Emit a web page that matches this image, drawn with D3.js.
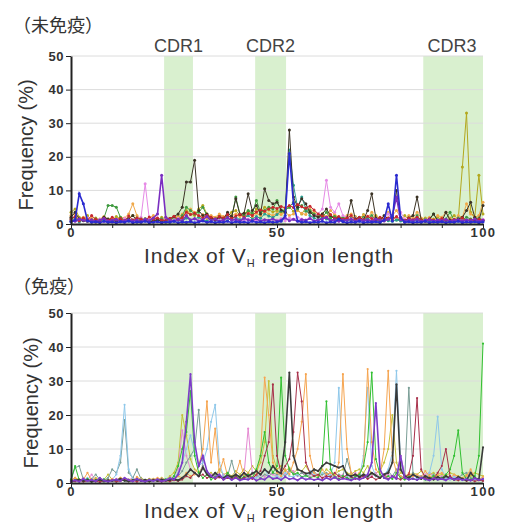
<!DOCTYPE html>
<html>
<head>
<meta charset="utf-8">
<script src="https://cdn.jsdelivr.net/npm/d3@7"></script>
<style>
  body { margin: 0; background: #fff; }
  text { font-family: Arial, "Liberation Sans", sans-serif; }
  .title { font-family: "Noto Sans CJK JP", sans-serif; font-size: 18px; fill: #333; }
  .axis text { font-size: 13px; font-weight: bold; fill: #333; letter-spacing: 0.5px; }
  .axis path, .axis line { stroke: #222; }
  .axisLabel { font-size: 21px; fill: #333; }
  .cdrLabel { font-size: 18px; fill: #444; }
</style>
</head>
<body>
<div id="chart"></div>
<script>
// tick values and CDR band positions (index of VH region length)
const indexTicks = [0, 10, 20, 30, 40, 50, 60, 70, 80, 90, 100];
const indexLabels = [0, 50, 100];
const freqTicks = [0, 10, 20, 30, 40, 50];
const cdrNames = ["CDR1", "CDR2", "CDR3"];
const cdrStart = [22.6, 44.7, 85.5];
const cdrEnd = [29.6, 52.2, 100];

// ---- 未免疫 (naive) : frequency (%) at index 0..100 ----
const naiveColors = ["#b3a81e", "#f0a848", "#3f9a3f", "#e68ae6", "#2a9d8f", "#3b3325", "#c8282e", "#7a2fc0", "#2b2bd0"];
const naiveOlive = [3.5,4.5,2.0,1.5,2.5,1.0,1.8,1.2,2.0,1.5, 1.2,2.2,1.5,1.0,1.8,2.5,1.4,1.0,1.6,1.2,
  1.8,1.0,2.0,1.4,1.2,1.6,2.2,1.5,4.0,3.0, 2.5,4.5,5.5,3.0,2.0,1.5,2.5,1.8,2.2,3.5,
  4.0,2.5,3.2,3.8,2.8,4.5,3.5,5.0,4.2,3.6, 4.0,3.5,4.5,5.0,3.8,4.2,3.0,4.8,3.5,2.8,
  2.5,3.0,2.0,1.5,2.5,1.8,1.2,2.0,1.5,2.2, 1.5,2.8,1.2,1.8,2.5,1.5,1.0,1.8,2.2,1.6,
  1.2,2.5,1.5,1.0,2.0,1.4,1.8,1.0,1.5,2.0, 1.2,1.0,1.8,2.5,1.5,17.0,33.0,3.5,2.0,14.5,3.0];
const naiveOrange = [2.5,3.0,1.5,2.0,1.2,1.8,1.0,1.5,2.2,1.0, 1.5,1.2,2.0,1.8,3.0,6.0,2.5,1.5,1.2,1.8,
  2.5,1.5,1.0,2.0,1.5,1.2,2.0,3.0,2.5,4.5, 3.5,2.0,2.8,1.5,2.5,2.0,3.0,2.2,1.8,2.5,
  3.0,2.2,2.8,3.5,2.0,3.2,2.5,3.8,3.0,2.5, 3.2,2.8,3.5,2.5,3.0,4.0,3.2,2.8,4.5,3.5,
  2.5,3.0,2.2,4.0,2.8,2.0,1.5,2.5,3.0,2.0, 1.5,2.5,1.8,3.5,2.0,1.5,2.2,3.5,2.5,4.0,
  2.0,1.5,2.5,2.0,3.5,1.8,1.5,2.0,1.2,2.5, 2.0,3.5,1.5,1.2,2.5,2.0,6.0,3.0,2.0,2.5,6.5];
const naiveGreen = [1.5,2.0,1.0,1.5,1.2,0.8,1.5,1.0,1.8,5.5, 5.5,5.0,2.0,1.2,1.5,1.0,1.8,1.2,1.5,1.0,
  1.3,0.9,1.5,1.0,1.2,1.8,1.4,2.5,5.0,4.0, 3.0,3.5,5.0,2.5,1.8,1.5,2.2,1.6,2.5,2.0,
  8.0,3.0,2.5,4.0,3.2,7.0,3.5,4.0,5.0,4.5, 7.0,3.8,4.2,5.0,6.5,4.5,5.5,3.8,4.0,3.0,
  2.5,2.0,3.5,1.8,2.2,1.5,2.0,1.2,1.8,1.5, 1.2,2.0,1.5,2.5,1.0,1.8,1.2,1.5,2.0,1.2,
  1.5,1.0,1.8,1.2,2.5,1.0,1.4,1.2,3.0,1.0, 1.2,1.5,3.5,1.0,1.8,1.2,2.0,1.5,1.0,1.8,1.2];
const naivePink = [1.0,1.5,0.8,1.2,1.8,0.9,1.1,1.4,0.7,1.2, 0.9,1.3,1.0,1.6,0.8,1.2,1.5,2.0,12.0,1.5,
  1.2,1.8,1.0,1.4,0.9,1.3,1.6,1.0,1.8,1.2, 1.5,1.0,1.3,0.8,1.4,1.1,1.6,0.9,1.2,1.5,
  1.0,1.3,0.8,1.5,1.2,1.0,1.6,1.2,1.0,1.4, 1.2,1.6,1.0,1.8,1.4,2.0,1.5,1.2,1.8,2.5,
  3.0,4.5,13.0,5.0,3.5,6.0,2.5,2.0,1.5,1.8, 1.2,1.5,1.0,1.8,1.3,1.0,1.5,3.0,1.2,2.0,
  3.5,1.5,1.0,1.3,1.8,1.0,1.2,1.5,0.9,1.1, 1.4,1.0,1.2,0.8,1.5,1.0,1.3,0.9,1.2,1.0,1.4];
const naiveTeal = [0.8,1.5,0.6,1.2,0.9,0.7,1.4,0.8,1.1,0.6, 0.9,1.3,0.7,1.0,0.8,1.2,0.6,1.5,0.9,0.7,
  1.1,0.8,1.4,0.6,1.0,0.9,1.3,0.7,1.8,1.2, 1.5,2.0,1.2,0.9,1.6,1.1,0.8,1.4,1.0,1.7,
  2.0,1.3,1.8,2.5,1.5,2.2,1.7,3.0,2.4,1.9, 2.8,4.0,3.5,22.0,11.5,5.0,8.0,4.5,2.5,1.8,
  1.2,2.0,1.5,0.9,1.6,1.1,0.8,1.3,1.0,1.4, 0.9,1.2,1.6,0.8,1.1,0.7,1.3,1.0,0.8,1.2,
  0.9,0.7,1.1,0.8,1.3,0.6,1.0,0.9,0.7,1.2, 0.8,1.0,0.6,1.1,0.9,0.7,1.3,0.8,1.0,0.6,0.9];
const naiveDark = [2.0,3.5,1.5,1.0,0.8,1.2,0.6,1.0,2.0,1.5, 1.0,0.8,1.2,0.7,1.5,2.5,1.0,0.8,1.1,0.6,
  0.9,1.3,0.7,1.0,1.6,2.2,3.0,5.0,12.5,12.5, 19.0,4.0,2.5,3.0,1.8,1.2,2.0,1.5,3.5,2.2,
  7.5,2.8,3.2,9.0,4.0,5.5,3.0,10.5,7.0,6.0, 6.5,4.2,3.5,28.0,8.0,5.0,7.5,6.0,3.5,2.5,
  2.0,3.0,4.5,2.5,1.5,2.0,1.2,1.8,7.0,1.5, 2.0,1.2,4.0,9.0,1.8,1.0,2.5,1.5,2.0,10.0,
  1.5,1.0,1.8,2.5,8.0,1.2,0.8,1.5,3.0,1.0, 0.8,3.5,1.2,0.9,1.5,2.0,4.0,6.5,2.0,1.0,5.5];
const naiveRed = [1.5,2.2,1.0,1.8,1.2,2.5,1.4,0.9,1.7,1.1, 2.0,1.3,1.6,1.0,2.4,1.2,1.8,1.5,1.1,2.1,
  1.4,1.8,1.2,1.0,1.6,2.3,1.3,1.9,3.5,2.8, 3.2,2.5,1.8,2.6,2.0,1.5,2.2,1.8,2.8,1.6,
  2.4,2.9,2.0,3.1,2.5,3.6,4.2,3.8,4.5,5.0, 4.6,5.2,4.8,5.5,4.9,5.8,5.1,4.7,5.3,4.2,
  3.0,2.4,1.9,2.8,1.6,2.2,1.4,1.8,2.5,1.3, 1.9,1.2,2.3,1.6,1.1,2.0,1.5,1.8,1.3,2.2,
  1.4,1.0,1.7,1.3,2.0,1.1,0.9,1.5,1.2,1.0, 1.6,1.1,0.9,1.4,1.2,1.8,1.0,1.3,0.9,1.5,1.1];
const naivePurple = [1.0,0.8,1.5,1.1,0.9,1.3,0.7,1.2,1.6,0.9, 1.1,1.4,0.8,1.0,1.3,0.9,1.2,0.7,1.5,1.0,
  1.8,3.0,14.5,2.0,1.1,0.9,1.4,1.0,2.5,1.2, 1.6,0.9,1.3,2.2,1.0,1.5,0.8,1.2,1.9,1.1,
  1.4,0.9,1.7,1.2,1.0,1.6,0.8,1.3,1.1,1.5, 0.9,1.2,1.8,1.0,1.4,0.8,1.3,1.1,1.6,0.9,
  1.2,1.5,2.0,1.0,1.3,0.8,1.2,1.1,1.4,0.9, 1.3,1.0,1.2,0.8,1.5,1.1,0.9,1.4,2.5,8.0,
  1.3,0.9,1.2,1.0,1.4,0.8,1.1,1.3,0.9,1.2, 1.0,1.4,0.8,1.1,1.3,0.9,1.2,1.0,1.5,0.8,1.1];
const naiveBlue = [0.6,1.2,9.0,6.0,1.0,0.5,0.7,0.4,0.8,0.5, 0.6,0.4,0.7,0.5,0.9,0.4,0.6,0.5,0.8,0.4,
  0.5,0.7,0.4,0.6,0.5,0.8,0.4,0.6,0.5,0.7, 0.4,0.6,0.9,0.5,0.7,0.4,0.6,0.5,0.8,0.4,
  0.7,0.5,0.6,0.4,0.8,0.5,0.6,0.4,0.7,0.5, 0.6,0.8,2.5,21.0,6.0,0.9,0.5,0.7,0.4,0.6,
  0.5,0.8,0.4,0.6,0.5,1.5,0.7,0.4,0.6,0.5, 0.8,0.4,0.6,0.5,0.7,0.4,1.2,6.0,0.9,14.5,
  2.0,0.5,0.7,0.4,0.6,0.5,0.8,0.4,0.6,0.5, 0.7,0.4,0.6,0.5,0.8,0.4,0.6,0.5,0.7,0.4,0.6];
const naiveSeries = [naiveOlive, naiveOrange, naiveGreen, naivePink, naiveTeal, naiveDark, naiveRed, naivePurple, naiveBlue];

// ---- 免疫 (immunized) ----
const immColors = ["#c4c23a", "#e58ad2", "#7a9e96", "#8fc8ea", "#f6a550", "#32c032", "#a8304a", "#3a3a3a", "#7d3cc8"];
const immYellow = [0.8,1.5,1.0,0.7,1.2,0.9,1.5,0.8,1.0,2.5, 1.0,0.8,1.5,1.0,0.7,1.2,0.9,1.5,0.8,1.0,
  1.2,0.9,1.5,1.0,2.0,3.0,6.0,20.0,14.0,7.0, 4.0,3.0,5.0,2.5,3.0,2.0,4.0,2.5,3.0,2.0,
  3.5,2.5,4.0,3.0,5.0,3.5,6.0,12.0,30.0,8.0, 4.0,5.0,3.5,4.5,3.0,4.0,3.5,5.0,3.0,4.0,
  3.5,2.5,4.0,3.0,2.5,3.5,4.0,3.0,2.5,3.5, 4.0,3.0,5.0,2.5,3.0,3.5,6.0,10.0,20.0,6.0,
  3.0,2.5,2.0,3.0,2.5,3.5,2.0,2.5,3.0,2.0, 2.5,2.0,3.0,2.5,2.0,1.5,2.5,2.0,3.0,2.5,2.0];
const immPink = [0.6,1.0,0.8,1.5,0.7,2.5,0.9,1.2,0.6,1.0, 0.8,1.2,0.7,1.0,0.9,1.5,0.8,1.2,0.6,0.9,
  1.0,0.8,1.2,0.9,1.5,2.0,4.0,15.5,8.0,4.0, 3.0,2.0,5.0,3.0,2.5,2.0,1.5,2.5,1.8,1.5,
  2.0,1.5,2.5,16.0,3.0,2.0,2.5,1.8,3.0,2.5, 2.0,3.0,2.5,4.0,3.5,2.0,3.0,2.5,1.8,2.5,
  2.0,1.5,2.5,3.0,2.0,1.8,2.5,1.5,2.0,3.0, 1.8,2.5,1.5,2.0,3.0,1.5,2.0,2.5,1.8,2.0,
  8.0,2.5,1.5,2.0,1.8,1.5,2.5,3.0,2.0,1.5, 2.0,1.5,1.0,2.0,1.5,1.2,2.0,3.0,1.5,1.0,1.2];
const immGray = [1.0,4.5,5.0,1.0,0.8,1.2,2.5,1.0,0.8,1.5, 4.0,3.0,6.0,18.5,3.0,1.5,4.0,1.2,0.9,1.0,
  0.8,1.2,0.9,1.0,1.5,1.2,2.0,3.5,6.0,8.0, 10.0,21.5,5.0,3.0,2.0,2.5,1.8,1.5,2.0,6.5,
  2.0,1.5,2.5,1.8,3.0,2.2,1.5,2.5,2.0,3.0, 2.5,3.0,2.0,3.5,2.8,2.2,3.0,2.0,2.5,3.5,
  2.0,2.5,3.0,2.0,1.5,2.5,2.0,7.0,3.0,2.0, 2.5,2.0,1.5,2.8,2.0,1.5,2.5,3.5,2.0,4.0,
  2.0,1.5,28.0,3.0,1.8,2.0,1.2,1.5,2.5,1.0, 1.5,1.2,2.0,1.0,1.5,2.5,3.0,1.5,1.0,1.2,0.8];
const immLightBlue = [0.5,1.0,0.6,0.8,1.5,0.5,0.9,0.7,1.2,0.6, 1.0,2.5,8.0,23.0,4.0,1.2,0.8,1.0,0.6,0.9,
  0.7,1.0,0.8,1.2,0.9,1.5,3.0,6.0,10.0,14.0, 9.0,5.0,6.0,10.0,18.0,23.0,6.0,2.0,1.5,1.0,
  1.5,1.0,2.0,1.2,1.8,1.5,2.5,4.0,2.0,1.5, 2.0,1.5,3.0,2.0,1.8,2.5,1.5,2.0,3.5,2.5,
  2.0,3.0,1.8,2.5,6.0,28.0,5.0,2.0,1.5,2.0, 1.5,8.0,28.0,5.0,2.0,1.5,2.5,4.0,9.0,33.0,
  6.0,2.0,1.5,2.5,1.2,1.8,1.0,3.0,8.0,19.5, 4.0,1.5,1.0,1.8,1.2,0.8,1.5,1.0,0.9,1.2,0.8];
const immOrange = [0.8,1.5,0.6,1.0,3.0,0.8,1.2,0.6,1.0,0.7, 1.2,0.8,1.5,0.9,1.0,0.6,1.8,1.0,0.7,1.2,
  0.9,1.5,1.0,0.8,1.3,1.0,2.0,1.5,3.0,2.0, 2.5,5.0,10.0,24.0,6.0,16.0,3.0,7.0,2.0,1.5,
  2.5,6.5,2.0,3.0,1.8,2.5,8.0,31.0,20.0,6.0, 3.0,2.0,4.0,2.5,6.0,10.0,18.0,32.0,8.0,3.0,
  2.0,4.0,2.5,3.0,2.0,6.0,32.0,10.0,3.0,2.0, 3.0,5.0,33.5,12.0,4.0,2.5,10.0,33.0,8.0,3.0,
  2.0,1.5,3.0,2.0,2.5,1.8,3.5,2.0,1.5,2.5, 3.0,2.0,1.5,2.5,1.8,1.2,2.0,4.0,1.5,1.0,1.8];
const immGreen = [1.0,5.0,0.8,0.6,1.2,0.5,0.9,0.7,1.1,0.6, 0.8,0.5,1.0,0.7,0.9,0.6,1.2,0.8,0.5,1.0,
  0.7,0.9,0.6,1.1,0.8,2.0,5.0,10.0,15.0,27.0, 8.0,3.0,1.5,2.5,1.0,1.8,2.0,1.2,3.0,1.5,
  2.0,1.2,1.8,2.5,1.5,4.0,8.0,15.0,6.0,3.0, 5.0,31.0,8.0,4.0,2.5,3.0,1.8,2.2,1.5,2.0,
  1.5,5.0,24.0,4.0,1.8,1.2,2.0,1.5,1.0,1.8, 2.5,5.0,12.0,32.5,7.0,2.5,1.5,2.0,1.2,3.0,
  1.5,1.0,1.8,1.2,0.9,1.5,1.0,1.2,2.0,1.0, 1.5,2.5,4.0,8.0,15.5,3.0,1.2,1.0,2.0,8.0,41.0];
const immRed = [0.3,0.5,0.8,0.4,0.6,0.9,0.5,0.3,0.7,0.5, 0.8,0.4,0.6,0.9,0.5,0.7,0.4,0.8,0.6,0.5,
  0.9,0.6,0.4,0.7,0.5,0.8,0.6,1.0,2.0,1.5, 3.0,2.0,2.5,1.5,2.0,1.2,1.8,1.0,1.5,1.2,
  1.8,1.0,1.5,2.0,1.2,2.5,3.5,8.0,12.0,29.0, 8.0,3.0,5.0,7.0,15.0,32.5,24.0,6.0,3.0,2.0,
  2.5,1.5,2.0,1.8,3.0,2.0,1.5,2.5,1.8,1.2, 1.5,2.0,1.2,1.8,1.0,1.5,2.5,1.2,2.0,1.5,
  1.0,1.8,2.5,8.0,25.0,4.0,1.5,1.0,1.2,3.0, 5.0,10.0,2.0,1.0,0.8,1.2,0.6,0.9,0.5,0.8,0.6];
const immBlack = [0.5,0.8,1.0,0.6,0.9,0.4,0.7,1.0,0.5,0.8, 0.6,0.9,1.2,0.7,0.5,0.8,1.0,0.6,0.9,0.5,
  0.8,0.6,1.0,0.7,0.9,1.2,0.8,1.5,2.5,4.0, 3.0,2.0,4.5,2.5,1.8,3.0,2.0,1.5,2.2,1.8,
  2.5,1.8,3.0,2.0,2.8,3.5,2.5,4.0,3.0,5.0, 3.5,2.8,12.0,32.5,8.0,4.0,3.5,2.8,3.0,4.0,
  3.5,5.0,6.0,5.5,5.0,4.5,5.0,2.5,2.0,2.5, 1.8,2.5,2.0,3.0,2.2,1.5,2.5,3.0,6.0,29.0,
  4.0,2.0,1.5,2.5,1.8,1.2,2.0,1.5,1.0,1.8, 1.2,2.0,1.5,1.0,1.8,1.2,0.8,3.0,1.5,1.0,10.5];
const immPurple = [0.5,0.8,0.4,1.2,0.6,0.9,0.5,1.5,0.7,0.4, 0.8,1.0,0.6,1.5,0.9,0.5,1.2,0.7,0.4,0.9,
  0.6,1.1,0.5,0.8,1.4,1.0,2.5,6.0,18.0,32.0, 12.0,5.0,8.0,3.5,2.0,1.5,2.5,1.0,1.8,0.9,
  1.5,0.8,1.2,1.0,1.6,0.7,1.3,1.0,2.0,1.2, 1.5,0.9,1.8,1.1,1.4,0.8,1.6,1.0,1.3,0.9,
  1.2,0.8,1.5,1.0,1.7,0.9,1.3,1.1,0.8,1.4, 1.0,1.5,2.5,6.0,23.5,4.0,1.5,1.0,2.0,1.2,
  8.0,1.5,1.0,1.3,0.9,1.6,1.1,0.8,1.4,1.0, 1.2,0.8,1.5,1.0,1.3,0.9,1.1,0.7,1.4,0.9,1.2];
const immSeries = [immYellow, immPink, immGray, immLightBlue, immOrange, immGreen, immRed, immBlack, immPurple];

const width = 506;
const height = 525;

const svg = d3.select("#chart")
    .append("svg")
    .attr("width", width)
    .attr("height", height);

const xScale = d3.scaleLinear()
    .domain([0, 100])
    .range([71, 483]);

function drawPanel(opts) {
    const yScale = d3.scaleLinear()
        .domain([0, 50])
        .range([opts.bottom, opts.top]);

    const g = svg.append("g");

    // light green CDR bands
    g.selectAll("rect.cdr")
        .data(cdrNames)
        .enter()
        .append("rect")
            .attr("class", "cdr")
            .attr("x", (d, i) => xScale(cdrStart[i]))
            .attr("y", yScale(50))
            .attr("width", (d, i) => xScale(cdrEnd[i]) - xScale(cdrStart[i]))
            .attr("height", yScale(0) - yScale(50))
            .attr("fill", "#d9f0cf");

    // gridlines
    g.selectAll("line.grid")
        .data(freqTicks.filter(d => d > 0))
        .enter()
        .append("line")
            .attr("x1", xScale(0))
            .attr("x2", xScale(100))
            .attr("y1", d => yScale(d))
            .attr("y2", d => yScale(d))
            .attr("stroke", "#dcdcdc")
            .attr("stroke-width", 1);

    if (opts.showCdr) {
        g.selectAll("text.cdrLabel")
            .data(cdrNames)
            .enter()
            .append("text")
                .attr("class", "cdrLabel")
                .attr("x", (d, i) => i == 2 ? xScale(cdrStart[i] + 7) : xScale((cdrStart[i] + cdrEnd[i]) / 2))
                .attr("y", opts.top - 4)
                .attr("text-anchor", "middle")
                .text(d => d);
    }

    const line = d3.line()
        .x((d, i) => xScale(i))
        .y(d => yScale(d));

    opts.series.forEach(function(values, k) {
        g.append("path")
            .datum(values)
            .attr("fill", "none")
            .attr("stroke", opts.colors[k])
            .attr("stroke-width", k >= opts.series.length - 2 ? 1.6 : 1)
            .attr("d", line);

        g.selectAll(null)
            .data(values)
            .enter()
            .append("circle")
                .attr("cx", (d, i) => xScale(i))
                .attr("cy", d => yScale(d))
                .attr("r", opts.markerR)
                .attr("fill", opts.colors[k]);
    });

    const yAxis = g.append("g")
        .attr("class", "axis")
        .attr("transform", `translate(${xScale(0)},0)`)
        .call(d3.axisLeft(yScale).tickValues(freqTicks).tickSize(5).tickSizeOuter(0).tickPadding(2));
    yAxis.select(".domain").attr("stroke-width", 2);

    const xAxis = g.append("g")
        .attr("class", "axis")
        .attr("transform", `translate(0,${yScale(0)})`)
        .call(d3.axisBottom(xScale).tickValues(indexTicks).tickSize(4).tickSizeOuter(0).tickPadding(0)
            .tickFormat(d => indexLabels.includes(d) ? d : ""));
    xAxis.select(".domain").attr("stroke-width", 2);
    xAxis.selectAll("text").style("letter-spacing", "1.5px");

    // titles and axis labels
    g.append("text")
        .attr("class", "title")
        .attr("x", 13)
        .attr("y", opts.titleY)
        .text(opts.title);

    const xLabel = g.append("text")
        .attr("class", "axisLabel")
        .attr("x", 269)
        .attr("y", opts.xLabelY)
        .attr("text-anchor", "middle")
        .style("letter-spacing", "0.8px");
    xLabel.append("tspan").text("Index of V");
    xLabel.append("tspan").attr("dy", 4).style("font-size", "11px").text("H");
    xLabel.append("tspan").attr("dy", -4).text(" region length");

    g.append("text")
        .attr("class", "axisLabel")
        .attr("transform", "rotate(-90)")
        .attr("x", -(opts.top + opts.bottom) / 2 - 5)
        .attr("y", opts.yLabelX)
        .attr("text-anchor", "middle")
        .style("font-size", "20px")
        .text("Frequency (%)");
}

drawPanel({ top: 56, bottom: 224, series: naiveSeries, colors: naiveColors, showCdr: true,
    title: "（未免疫）", titleY: 32, xLabelY: 263, yLabelX: 33, markerR: 1.5 });

drawPanel({ top: 313, bottom: 483, series: immSeries, colors: immColors, showCdr: false,
    title: "（免疫）", titleY: 293, xLabelY: 518, yLabelX: 38, markerR: 1.1 });
</script>
</body>
</html>
